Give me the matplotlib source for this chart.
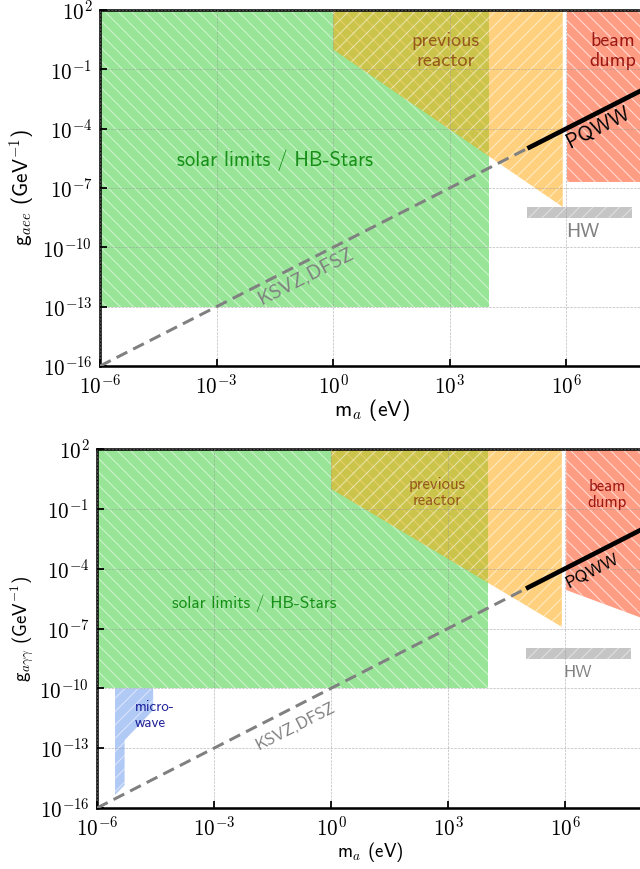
import matplotlib
matplotlib.use('Agg')
import matplotlib.pyplot as plt
from matplotlib.ticker import FixedLocator, NullLocator

plt.rcParams['mathtext.fontset'] = 'cm'
plt.rcParams['font.family'] = ['cmss10', 'DejaVu Sans']
plt.rcParams['axes.unicode_minus'] = True
plt.rcParams['hatch.linewidth'] = 1.0

# ---------------- data ----------------
x_ticks = [1e-6, 1e-3, 1e0, 1e3, 1e6]
x_tick_labels = [r'$10^{-6}$', r'$10^{-3}$', r'$10^{0}$', r'$10^{3}$', r'$10^{6}$']
y_ticks = [1e-16, 1e-13, 1e-10, 1e-7, 1e-4, 1e-1, 1e2]
y_tick_labels = [r'$10^{-16}$', r'$10^{-13}$', r'$10^{-10}$', r'$10^{-7}$',
                 r'$10^{-4}$', r'$10^{-1}$', r'$10^{2}$']

# theory band KSVZ/DFSZ (dashed) and PQWW (solid)
ksvz_m = [1e-6, 1e5]
ksvz_g = [1e-16, 1e-5]
pqww_m = [1e5, 1e8]
pqww_g = [1e-5, 1e-2]

# HW bar
hw_m = [1e5, 4.9e7]
hw_lo = [3e-9, 3e-9]
hw_hi = [1.1e-8, 1.1e-8]

# top panel (g_aee)
solar_top_m = [1e-6, 1.05e4, 1.05e4, 1e-6]
solar_top_g = [1e2, 1e2, 1e-13, 1e-13]
reactor_top_m = [1e0, 1e0, 8.1e5, 8.1e5]
reactor_top_g = [1e2, 1e0, 1.1e-8, 1e2]
beam_top_m = [1.05e6, 1e8, 1e8, 1.05e6]
beam_top_g = [1e2, 1e2, 2e-7, 2e-7]

# bottom panel (g_agg)
solar_bot_m = [1e-6, 1.05e4, 1.05e4, 1e-6]
solar_bot_g = [1e2, 1e2, 1e-10, 1e-10]
reactor_bot_m = [1e0, 1e0, 8.3e5, 8.3e5]
reactor_bot_g = [1e2, 1e0, 1.2e-7, 1e2]
beam_bot_m = [1.07e6, 1e8, 1e8, 1.07e6]
beam_bot_g = [1e2, 1e2, 3.2e-7, 8.5e-6]
micro_m = [2.9e-6, 2.75e-5, 2.75e-5, 5.1e-6, 5.1e-6, 2.9e-6]
micro_g = [1e-10, 1e-10, 8.1e-12, 2.5e-13, 1.4e-15, 4.5e-16]

# ---------------- figure ----------------
fig = plt.figure(figsize=(8, 10.8625), dpi=80)
ax1 = fig.add_axes([100/640, 1-366/869, 544/640, 356/869])
ax2 = fig.add_axes([97/640, 1-808/869, 546/640, 359/869])

BEAM = (1.0, 0.36, 0.2)
BACK = '\\\\'
FWD = '//'


def setup(ax):
    ax.set_xscale('log')
    ax.set_yscale('log')
    ax.set_xlim(1e-6, 1e8)
    ax.set_ylim(1e-16, 1e2)
    ax.xaxis.set_major_locator(FixedLocator(x_ticks))
    ax.set_xticklabels(x_tick_labels)
    ax.yaxis.set_major_locator(FixedLocator(y_ticks))
    ax.set_yticklabels(y_tick_labels)
    ax.xaxis.set_minor_locator(NullLocator())
    ax.yaxis.set_minor_locator(NullLocator())
    ax.tick_params(direction='in', length=6, width=1.6, labelsize=19, pad=7)
    for s in ax.spines.values():
        s.set_linewidth(2.3)
    ax.set_axisbelow(False)
    ax.grid(True, ls='--', color='#999999', lw=0.6, alpha=0.7)


def region(ax, m, g, color, alpha, hatch):
    ax.fill(m, g, facecolor=color, edgecolor=(1, 1, 1, 0.5), alpha=alpha,
            hatch=hatch, lw=0, zorder=1)


def theory(ax):
    ax.plot(ksvz_m, ksvz_g, ls=(0, (4.0, 2.2)), color='grey', lw=2.7, zorder=3)
    ax.plot(pqww_m, pqww_g, color='black', lw=4.2, zorder=3, solid_capstyle='butt')
    ax.fill_between(hw_m, hw_lo, hw_hi, facecolor='grey', edgecolor=(1, 1, 1, 0.6),
                    alpha=0.45, hatch=FWD, lw=0, zorder=1)


# ---- top panel ----
setup(ax1)
region(ax1, solar_top_m, solar_top_g, 'limegreen', 0.5, BACK)
region(ax1, reactor_top_m, reactor_top_g, 'orange', 0.5, FWD)
region(ax1, beam_top_m, beam_top_g, BEAM, 0.6, BACK)
theory(ax1)
ax1.text(3.2e-2, 2.6e-6, 'solar limits / HB-Stars', color='green', alpha=0.85,
         fontsize=18.5, ha='center', va='center')
ax1.text(7.8e2, 0.85, 'previous\nreactor', color='saddlebrown', alpha=0.85,
         fontsize=18, ha='center', va='center', linespacing=1.1)
ax1.text(1.6e7, 0.85, 'beam\ndump', color='darkred', alpha=0.85,
         fontsize=18, ha='center', va='center', linespacing=1.1)
ax1.text(6.5e6, 1.07e-4, 'PQWW', color='black', fontsize=19, ha='center',
         va='center', rotation=27, rotation_mode='anchor')
ax1.text(0.19, 3.2e-12, 'KSVZ,DFSZ', color='grey', fontsize=18, ha='center',
         va='center', rotation=27, rotation_mode='anchor')
ax1.text(2.6e6, 6e-10, 'HW', color='grey', fontsize=18, ha='center', va='center')
ax1.set_xlabel(r'm$_a$ (eV)', fontsize=19.5)
ax1.xaxis.set_label_coords(0.5, -0.088)
ax1.xaxis.label.set_va('top')
ax1.set_ylabel(r'g$_{aee}$ (GeV$^{\mathsf{-1}}$)', fontsize=19)
ax1.yaxis.set_label_coords(-0.118, 0.5)

# ---- bottom panel ----
setup(ax2)
region(ax2, solar_bot_m, solar_bot_g, 'limegreen', 0.5, BACK)
region(ax2, reactor_bot_m, reactor_bot_g, 'orange', 0.5, FWD)
region(ax2, beam_bot_m, beam_bot_g, BEAM, 0.6, BACK)
region(ax2, micro_m, micro_g, 'cornflowerblue', 0.5, FWD)
theory(ax2)
ax2.text(1.07e-2, 1.9e-6, 'solar limits / HB-Stars', color='green', alpha=0.85,
         fontsize=15.5, ha='center', va='center')
ax2.text(5.25e2, 0.63, 'previous\nreactor', color='saddlebrown', alpha=0.85,
         fontsize=15, ha='center', va='center', linespacing=1.1)
ax2.text(1.2e7, 0.5, 'beam\ndump', color='darkred', alpha=0.85,
         fontsize=15, ha='center', va='center', linespacing=1.1)
ax2.text(4.9e6, 7.6e-5, 'PQWW', color='black', fontsize=16, ha='center',
         va='center', rotation=27, rotation_mode='anchor')
ax2.text(0.12, 1.3e-12, 'KSVZ,DFSZ', color='grey', fontsize=15, ha='center',
         va='center', rotation=27, rotation_mode='anchor')
ax2.text(2.1e6, 5.9e-10, 'HW', color='grey', fontsize=15.5, ha='center', va='center')
ax2.text(9.3e-6, 4.6e-12, 'micro-\nwave', color='darkblue', alpha=0.85,
         fontsize=13.5, ha='left', va='center', linespacing=1.1)
ax2.set_xlabel(r'm$_a$ (eV)', fontsize=17)
ax2.xaxis.set_label_coords(0.5, -0.088)
ax2.xaxis.label.set_va('top')
ax2.set_ylabel(r'g$_{a\gamma\gamma}$ (GeV$^{\mathsf{-1}}$)', fontsize=17)
ax2.yaxis.set_label_coords(-0.112, 0.5)

fig.savefig('out.png', dpi=80)
